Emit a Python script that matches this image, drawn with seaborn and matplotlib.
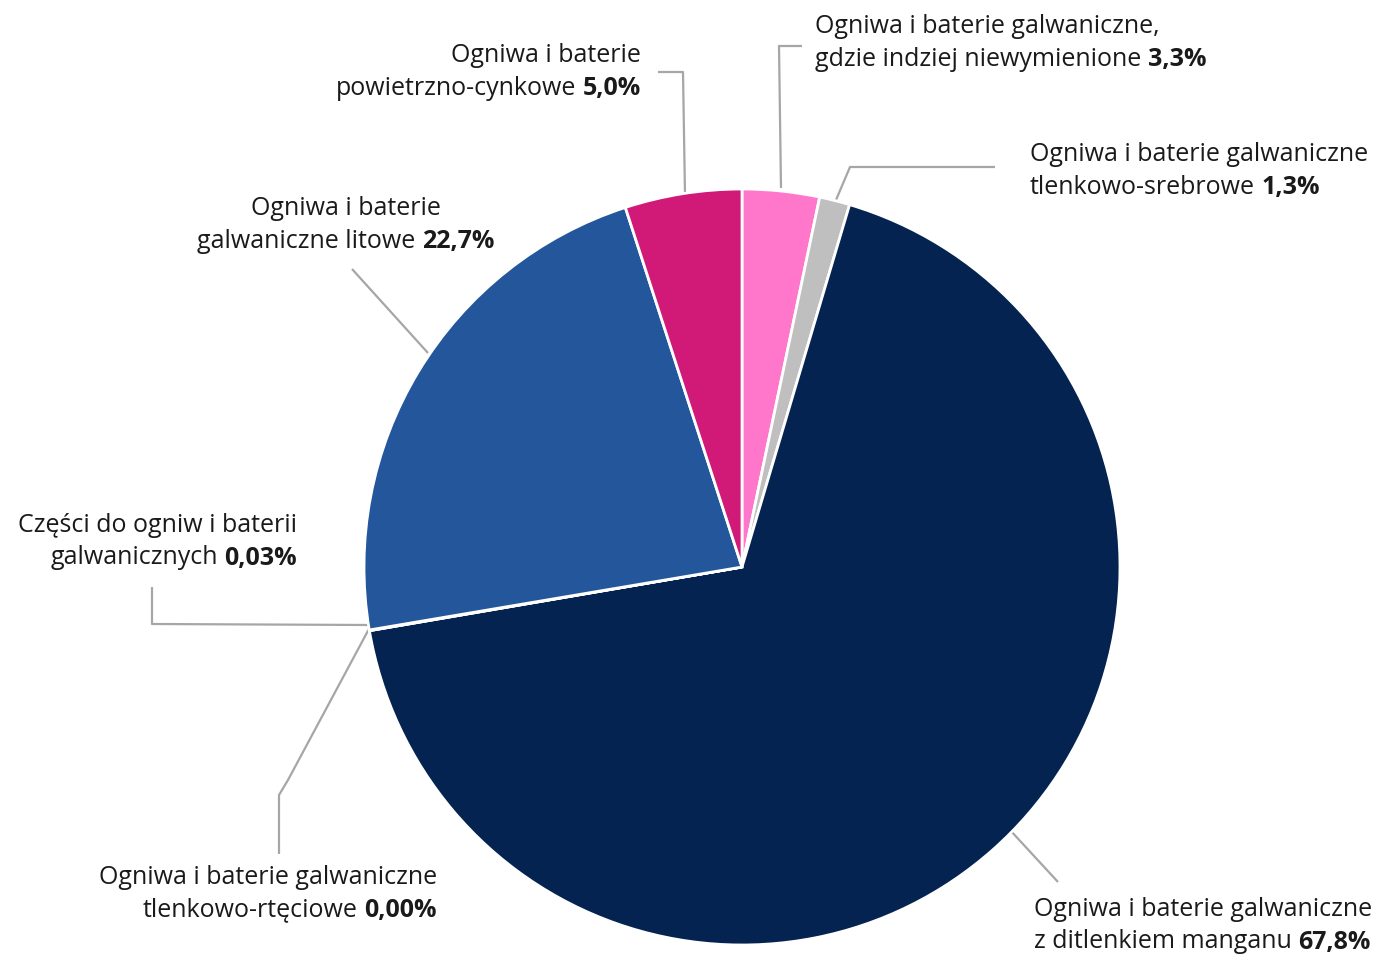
import matplotlib
matplotlib.use("Agg")
import matplotlib.pyplot as plt
import seaborn as sns

# ---- data (clockwise from 12 o'clock) ----
categories = [
    "Ogniwa i baterie galwaniczne, gdzie indziej niewymienione",
    "Ogniwa i baterie galwaniczne tlenkowo-srebrowe",
    "Ogniwa i baterie galwaniczne z ditlenkiem manganu",
    "Ogniwa i baterie galwaniczne tlenkowo-rtęciowe",
    "Części do ogniw i baterii galwanicznych",
    "Ogniwa i baterie galwaniczne litowe",
    "Ogniwa i baterie powietrzno-cynkowe",
]
values = [3.3, 1.3, 67.8, 0.00, 0.03, 22.7, 5.0]
value_labels = ["3,3%", "1,3%", "67,8%", "0,00%", "0,03%", "22,7%", "5,0%"]
label_lines = [
    ["Ogniwa i baterie galwaniczne,", "gdzie indziej niewymienione"],
    ["Ogniwa i baterie galwaniczne", "tlenkowo-srebrowe"],
    ["Ogniwa i baterie galwaniczne", "z ditlenkiem manganu"],
    ["Ogniwa i baterie galwaniczne", "tlenkowo-rtęciowe"],
    ["Części do ogniw i baterii", "galwanicznych"],
    ["Ogniwa i baterie", "galwaniczne litowe"],
    ["Ogniwa i baterie", "powietrzno-cynkowe"],
]
colors = ["#FF77CA", "#BFBFBF", "#052350", "#0A2A5C", "#1E4F95", "#23569B", "#D11A77"]

# ---- layout (pixels, y downward) ----
W, H = 1388, 958
CX, CY, R = 742, 567, 378
# (x, first-line baseline, alignment)
label_pos = [
    (815, 33, "left"),
    (1030, 161, "left"),
    (1034, 916, "left"),
    (437, 884, "right"),
    (297, 532, "right"),
    (346, 215, "center"),
    (641, 62, "right"),
]
leaders = [
    [(781, 188), (779, 46), (802, 46)],
    [(836, 200), (850, 167), (995, 167)],
    [(1010, 830), (1058, 882)],
    [(370, 627), (288, 780), (279, 795), (279, 854)],
    [(370, 625), (152, 624), (152, 587)],
    [(428, 353), (352, 269)],
    [(685, 195), (683, 72), (658, 72)],
]

sns.set_theme(style="white")
plt.rcParams["font.family"] = ["Open Sans", "DejaVu Sans"]

fig = plt.figure(figsize=(W / 100, H / 100), dpi=100)
ax = fig.add_axes([0, 0, 1, 1])
ax.pie(values, colors=colors, startangle=90, counterclock=False,
       center=(CX, H - CY), radius=R,
       wedgeprops=dict(edgecolor="white", linewidth=2))
ax.set_xlim(0, W)
ax.set_ylim(0, H)
ax.set_aspect("equal")
ax.axis("off")

line_col = "#A6A6A6"
for pts in leaders:
    xs = [p[0] for p in pts]
    ys = [H - p[1] for p in pts]
    ax.plot(xs, ys, color=line_col, lw=1.6, solid_capstyle="butt", zorder=0.5)

fs = 18
tcol = "#1A1A1A"
LS = 32.5
fig.canvas.draw()
renderer = fig.canvas.get_renderer()


def width_of(t):
    return t.get_window_extent(renderer).width


sp = ax.text(0, 0, "a a", fontsize=fs)
sp2 = ax.text(0, 0, "aa", fontsize=fs)
space_w = width_of(sp) - width_of(sp2)
sp.remove()
sp2.remove()

for lines, vlab, (x, y0, ha) in zip(label_lines, value_labels, label_pos):
    # first line
    ax.text(x, H - y0, lines[0], fontsize=fs, color=tcol, ha=ha, va="baseline")
    yb = H - (y0 + LS)
    plain = ax.text(0, yb, lines[1], fontsize=fs, color=tcol, ha="left", va="baseline")
    bold = ax.text(0, yb, vlab, fontsize=fs, color=tcol, fontweight="bold",
                   ha="left", va="baseline")
    wp = width_of(plain)
    wb = width_of(bold)
    total = wp + space_w + wb
    if ha == "left":
        x0 = x
    elif ha == "right":
        x0 = x - total
    else:
        x0 = x - total / 2
    plain.set_x(x0)
    bold.set_x(x0 + wp + space_w)

fig.savefig("out.png", dpi=100)
